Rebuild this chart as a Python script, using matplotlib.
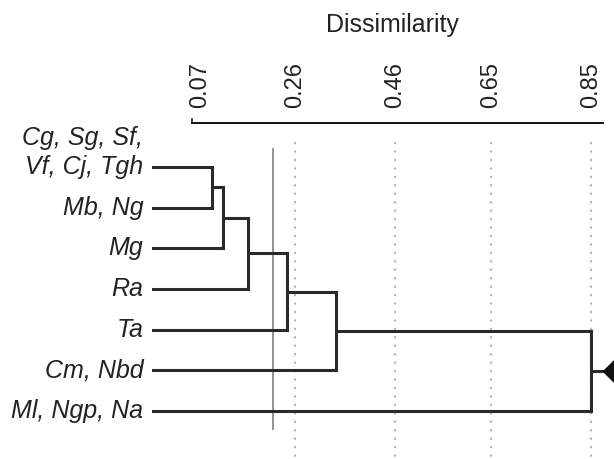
import matplotlib
matplotlib.use("Agg")
import matplotlib.pyplot as plt

# leaves, top to bottom
leaf_labels = ["Cg, Sg, Sf,\nVf, Cj, Tgh", "Mb, Ng", "Mg", "Ra", "Ta", "Cm, Nbd", "Ml, Ngp, Na"]
# each merge joins the cluster built so far with the next leaf
merge_heights = [0.094, 0.116, 0.166, 0.244, 0.341, 0.850]
tick_values = [0.07, 0.26, 0.46, 0.65, 0.85]
tick_labels = ["0.07", "0.26", "0.46", "0.65", "0.85"]
cut_level = 0.216
axis_title = "Dissimilarity"

plt.rcParams["font.family"] = ["Liberation Sans", "DejaVu Sans"]

LEAF_START = -0.024
LINE = "#2a2a2a"

fig = plt.figure(figsize=(6.14, 4.59), dpi=100)
ax = fig.add_axes([192 / 614, 0, 411 / 614, 1 - 123 / 459])
ax.set_xlim(0.054, 0.874)
ax.set_ylim(7.18, -1.08)

for s in ["left", "right", "bottom"]:
    ax.spines[s].set_visible(False)
ax.spines["top"].set_linewidth(1.3)
ax.set_yticks([])
ax.xaxis.tick_top()
ax.set_xticks(tick_values)
ax.set_xticklabels(tick_labels, rotation=90, fontsize=17, color="#222222")
ax.tick_params(axis="x", length=0, pad=11)
# little end tick at the left of the axis line, pointing up
ax.plot([0.054, 0.054], [-1.08, -1.18], color="#222222", lw=1.2, clip_on=False)

# dotted reference lines and cut line
for v in tick_values[1:]:
    ax.plot([v, v], [-0.61, 7.3], color="#b8b8b8", lw=1.6, ls=(0, (1, 2.8)), clip_on=False, zorder=1)
ax.plot([cut_level, cut_level], [-0.44, 6.44], color="#8a8a8a", lw=1.3, zorder=2)

# tree
node_y = 0.0
node_x = LEAF_START
for i, h in enumerate(merge_heights):
    leaf_y = i + 1
    if i == 0:
        ax.plot([LEAF_START, h], [0, 0], color=LINE, lw=2.2, clip_on=False, zorder=3)
    else:
        ax.plot([node_x, h], [node_y, node_y], color=LINE, lw=2.2, clip_on=False, zorder=3)
    ax.plot([LEAF_START, h], [leaf_y, leaf_y], color=LINE, lw=2.2, clip_on=False, zorder=3)
    ax.plot([h, h], [node_y, leaf_y], color=LINE, lw=2.2, clip_on=False, zorder=3)
    node_y = (node_y + leaf_y) / 2
    node_x = h

# root stem with diamond
ax.plot([node_x, 0.896], [node_y, node_y], color=LINE, lw=2.2, clip_on=False, zorder=3)
ax.plot([0.896], [node_y], marker="D", ms=11.5, color="#111111", clip_on=False, zorder=4)

# leaf labels
for i, lab in enumerate(leaf_labels):
    lines = lab.split("\n")
    for k, line in enumerate(reversed(lines)):
        ax.annotate(line, xy=(LEAF_START, i), xytext=(-7, 21 * k), textcoords="offset points",
                    ha="right", va="center", fontsize=18, style="italic", color="#222222",
                    annotation_clip=False)

fig.text(392 / 614, 1 - 32 / 459, axis_title, ha="center", va="baseline", fontsize=18, color="#222222")

fig.savefig("out.png", dpi=100)
